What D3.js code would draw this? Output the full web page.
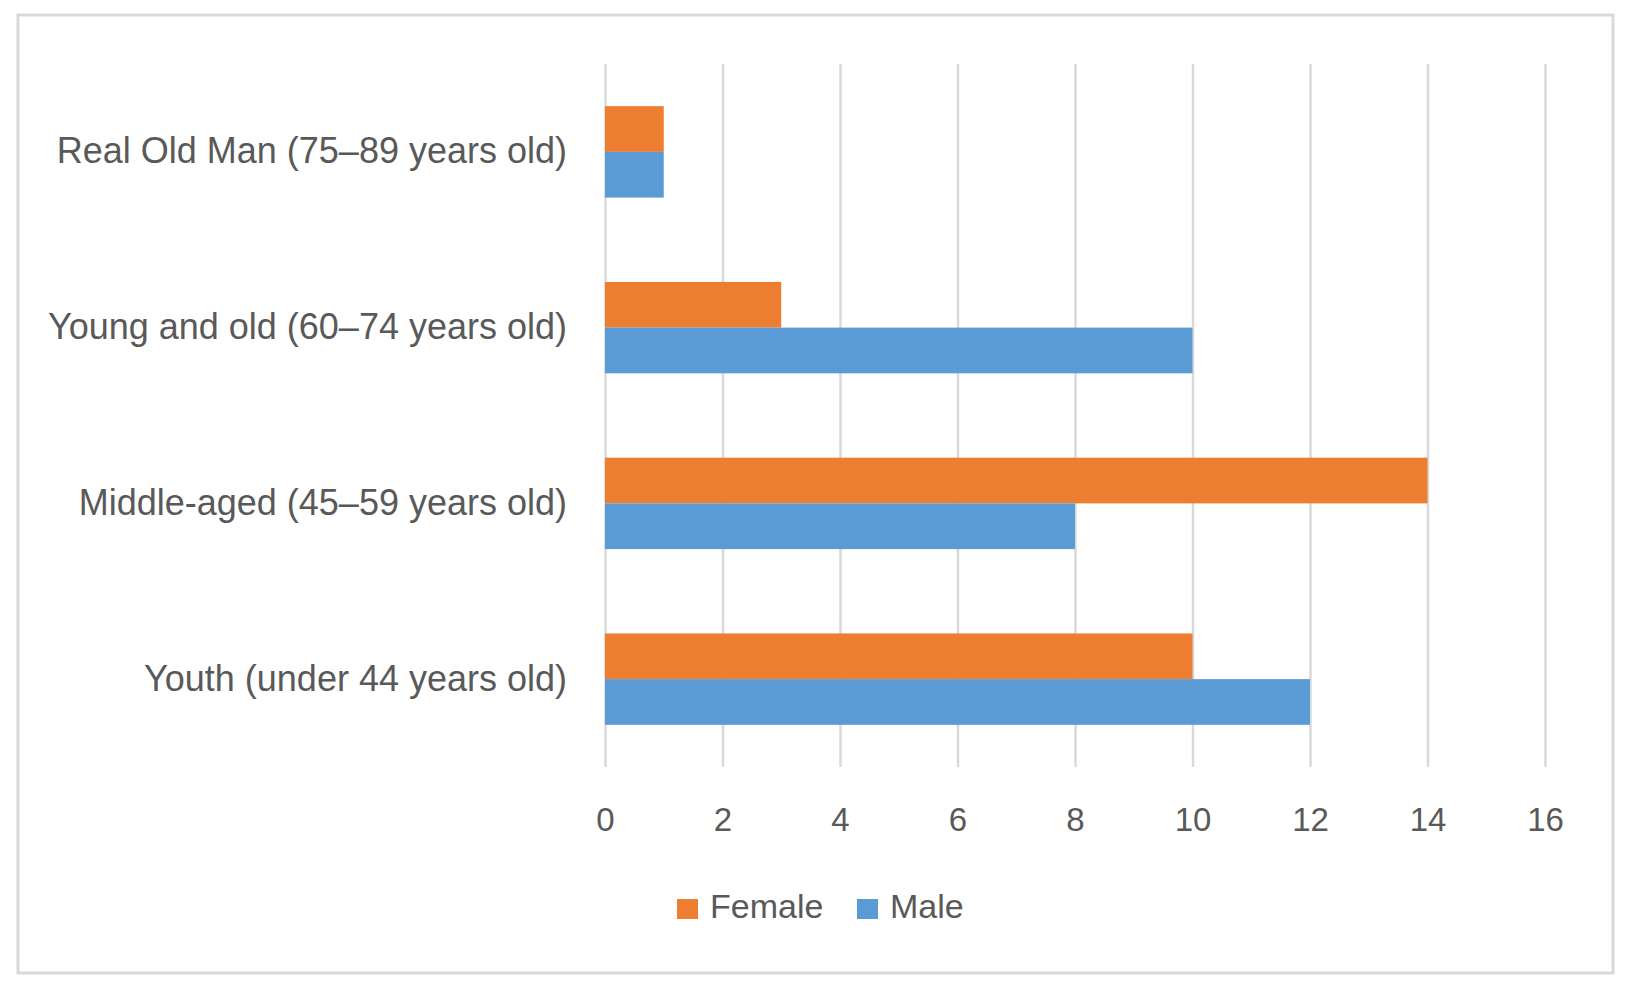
<!DOCTYPE html>
<html>
<head>
<meta charset="utf-8">
<script src="https://cdn.jsdelivr.net/npm/d3@7"></script>
<style>
  body { margin: 0; background: #fff; }
  text { font-family: "Liberation Sans", Arial, sans-serif; fill: #595959; }
</style>
</head>
<body>
<div id="canvas"></div>
<script>
// data, top to bottom as in the chart
const categories = [
  "Real Old Man (75–89 years old)",
  "Young and old (60–74 years old)",
  "Middle-aged (45–59 years old)",
  "Youth (under 44 years old)"
];
const series = ["Female", "Male"];
const female = [1, 3, 14, 10];
const male = [1, 10, 8, 12];
const xTicks = [0, 2, 4, 6, 8, 10, 12, 14, 16];

const colors = { Female: "#ED7D31", Male: "#5B9BD5" };

const width = 1640;
const height = 994;
const margin = { top: 64, left: 605, bottom: 227, right: 95 };
const iwidth = width - margin.left - margin.right;
const iheight = height - margin.top - margin.bottom;

const svg = d3.select("#canvas").append("svg")
  .attr("width", width)
  .attr("height", height);

// outer frame
svg.append("rect")
  .attr("x", 18).attr("y", 15)
  .attr("width", 1595).attr("height", 958)
  .attr("fill", "none")
  .attr("stroke", "#d9d9d9")
  .attr("stroke-width", 3);

const g = svg.append("g").attr("transform", `translate(${margin.left},${margin.top})`);

const x = d3.scaleLinear().domain([0, 16]).range([0, 940]);

const y = d3.scaleBand()
  .domain(categories)
  .range([0, iheight])
  .paddingInner(0.48)
  .paddingOuter(0.24);

const ySub = d3.scaleBand().domain(series).range([0, y.bandwidth()]);

// gridlines
g.append("g")
  .attr("class", "grid")
  .attr("transform", `translate(0,${iheight})`)
  .call(d3.axisBottom(x).tickValues(xTicks).tickSize(-iheight).tickFormat(""))
  .call(a => a.select(".domain").remove())
  .call(a => a.selectAll("line").attr("stroke", "#d9d9d9").attr("stroke-width", 2.5));

// bars
const rows = categories.map((c, i) => ({ cat: c, Female: female[i], Male: male[i] }));

const groups = g.selectAll(".cat").data(rows).enter().append("g")
  .attr("class", "cat")
  .attr("transform", d => `translate(0,${y(d.cat)})`);

groups.selectAll("rect")
  .data(d => series.map(s => ({ s, v: d[s] })))
  .enter().append("rect")
  .attr("x", x(0))
  .attr("y", d => ySub(d.s))
  .attr("width", d => x(d.v) - x(0))
  .attr("height", ySub.bandwidth())
  .attr("fill", d => colors[d.s]);

// x tick labels
g.append("g")
  .attr("transform", `translate(0,${iheight})`)
  .call(d3.axisBottom(x).tickValues(xTicks).tickSize(0).tickPadding(41))
  .call(a => a.select(".domain").remove())
  .call(a => a.selectAll("text").style("font-size", "33px").attr("fill", "#595959"));

// category labels
g.append("g")
  .call(d3.axisLeft(y).tickSize(0).tickPadding(38))
  .call(a => a.select(".domain").remove())
  .call(a => a.selectAll("text").style("font-size", "36px").attr("fill", "#595959"));

// legend
const legend = svg.append("g").attr("transform", "translate(677,899)");
const legendX = [0, 180];
series.forEach((s, i) => {
  const item = legend.append("g").attr("transform", `translate(${legendX[i]},0)`);
  item.append("rect").attr("width", 21).attr("height", 20).attr("fill", colors[s]);
  item.append("text")
    .attr("x", 33).attr("y", 19)
    .style("font-size", "34px")
    .text(s);
});
</script>
</body>
</html>
